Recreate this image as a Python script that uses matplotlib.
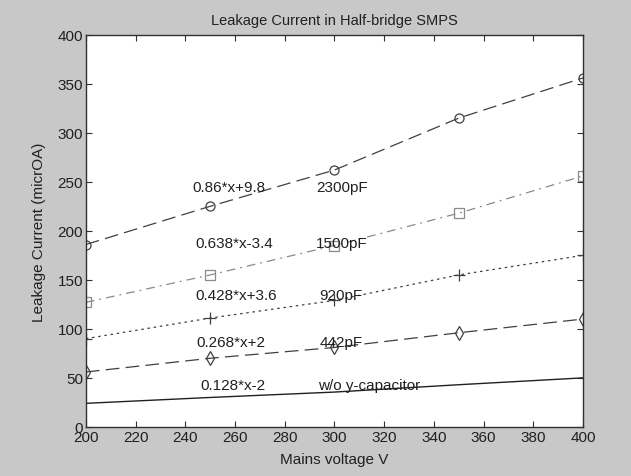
import matplotlib
matplotlib.use("Agg")
import matplotlib.pyplot as plt
from matplotlib.ticker import MultipleLocator

plt.rcParams['font.family'] = ['Liberation Sans', 'DejaVu Sans']

## data
voltage = [200, 250, 300, 350, 400]
i_2300pf = [186, 225, 262, 315, 356]
i_1500pf = [127, 155, 185, 218, 256]
i_920pf = [90, 111, 129, 155, 175]
i_442pf = [56, 70, 81, 96, 110]
i_none = [24, 30, 35.5, 43, 50]

fit_labels = ["0.86*x+9.8", "0.638*x-3.4", "0.428*x+3.6", "0.268*x+2", "0.128*x-2"]
cap_labels = ["2300pF", "1500pF", "920pF", "442pF", "w/o y-capacitor"]
label_y = [245, 188, 135, 87, 43]
fit_x = [243, 244, 244, 244.5, 246]
cap_x = [292.5, 292.5, 294, 294, 293.5]

BG = "#c8c8c8"

fig = plt.figure(figsize=(6.31, 4.77), dpi=100, facecolor=BG)
ax = fig.add_axes([0.136, 0.103, 0.788, 0.822])
ax.set_facecolor("white")

ax.plot(voltage, i_2300pf, color="#404040", lw=0.9, dashes=(11, 5),
        marker="o", ms=6.5, mfc="none", mec="#404040", mew=0.9)
ax.plot(voltage, i_1500pf, color="#8a8a8a", lw=0.9, dashes=(7, 4, 1.5, 4),
        marker="s", ms=7, mfc="none", mec="#8a8a8a", mew=0.9)
ax.plot(voltage, i_920pf, color="#404040", lw=0.9, dashes=(2, 3),
        marker="+", ms=9, mec="#404040", mew=0.9)
ax.plot(voltage, i_442pf, color="#404040", lw=0.9, dashes=(11, 5),
        marker="d", ms=7.5, mfc="none", mec="#404040", mew=0.9)
ax.plot(voltage, i_none, color="#202020", lw=1.0)

for i in range(len(fit_labels)):
    ax.text(fit_x[i], label_y[i], fit_labels[i], fontsize=11,
            va="center", ha="left", color="#202020")
    ax.text(cap_x[i], label_y[i], cap_labels[i], fontsize=11,
            va="center", ha="left", color="#202020")

ax.set_xlim(200, 400)
ax.set_ylim(0, 400)
ax.xaxis.set_major_locator(MultipleLocator(20))
ax.yaxis.set_major_locator(MultipleLocator(50))
ax.tick_params(direction="in", top=True, right=True, length=4,
               labelsize=11, color="#303030", labelcolor="#202020", pad=2)
for s in ax.spines.values():
    s.set_color("#303030")
    s.set_linewidth(1.0)

ax.set_title("Leakage Current in Half-bridge SMPS", fontsize=10.5,
             color="#202020", pad=8)
ax.set_xlabel("Mains voltage V", fontsize=11, color="#202020", labelpad=6)
ax.set_ylabel("Leakage Current (micrOA)", fontsize=11, color="#202020",
              labelpad=8)

plt.savefig("out.png", dpi=100, facecolor=BG)
plt.close()
